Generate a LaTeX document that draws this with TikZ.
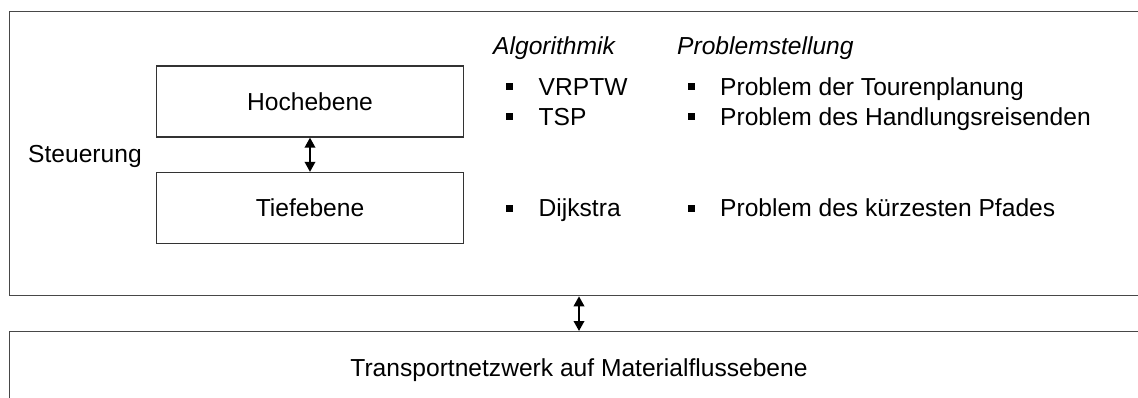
\documentclass[tikz,border=0pt]{standalone}
\usepackage{fontspec}
\setmainfont{Liberation Sans}
\usetikzlibrary{arrows.meta}

% square list marker followed by fixed-width gap
\newcommand{\itemmark}{\makebox[32.5pt][l]{\rule[5pt]{7pt}{7pt}}}

\begin{document}
\begin{tikzpicture}[x=1pt,y=-1pt,
  every node/.style={font=\fontsize{24.6pt}{29pt}\selectfont, inner sep=0pt, text=black},
  framebox/.style={draw=black!72, line width=1.3pt, anchor=north west},
  levelbox/.style={draw=black!80, line width=1.3pt, minimum width=307pt, minimum height=71pt},
  label/.style={anchor=base west},
  heading/.style={anchor=base west, font=\fontsize{24.6pt}{29pt}\selectfont\itshape},
  biarrow/.style={line width=1.9pt, {Triangle[length=10pt,width=10.5pt]}-{Triangle[length=10pt,width=10.5pt]}}
]
\useasboundingbox (0,0) rectangle (1138,398);
\clip (0,0) rectangle (1138,398);

% outer frames
\node[framebox, minimum width=1140pt, minimum height=284pt] (steu) at (9,11) {};
\node[framebox, minimum width=1140pt, minimum height=90pt] (netz) at (9,331) {};

% control levels
\node[levelbox] (hoch) at (310,101.5) {};
\node[levelbox] (tief) at (310,208) {};
\node[anchor=base] (hochtxt) at (310,111) {Hochebene};
\node[anchor=base] (tieftxt) at (310,217) {Tiefebene};
\node[label] (steutxt) at (28,163) {Steuerung};
\node[anchor=base] (netztxt) at (579,376.5) {Transportnetzwerk auf Materialflussebene};

% column headings
\node[heading] (algo) at (493,55) {Algorithmik};
\node[heading] (prob) at (677,55) {Problemstellung};

% algorithm list
\node[label] (a1) at (506,95.5) {\itemmark VRPTW};
\node[label] (a2) at (506,125.5) {\itemmark TSP};
\node[label] (a3) at (506,217) {\itemmark Dijkstra};

% problem list
\node[label] (p1) at (687.5,95.5) {\itemmark Problem der Tourenplanung};
\node[label] (p2) at (687.5,125.5) {\itemmark Problem des Handlungsreisenden};
\node[label] (p3) at (687.5,217) {\itemmark Problem des kürzesten Pfades};

% connectors
\draw[biarrow] (hoch.south) -- (tief.north);
\coordinate (linkx) at (579,0);
\draw[biarrow] (steu.south -| linkx) -- (netz.north -| linkx);
\end{tikzpicture}
\end{document}
